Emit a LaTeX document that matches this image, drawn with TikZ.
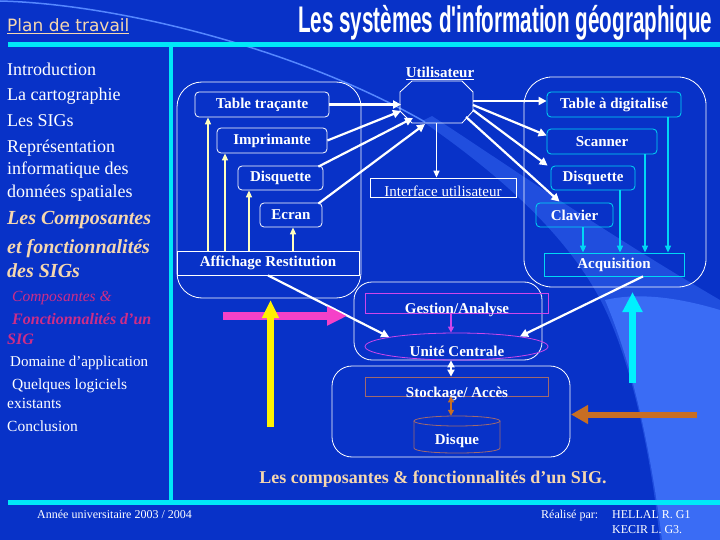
\documentclass[tikz,border=0pt]{standalone}
\usepackage{fontspec}
\setmainfont{Liberation Serif}
\newfontfamily\hdrfont{DejaVu Sans}
\newfontfamily\ttlfont{Liberation Sans}
\usetikzlibrary{arrows.meta,calc,shapes.geometric}
\definecolor{bgblue}{RGB}{8,50,200}
\definecolor{bandblue}{RGB}{32,78,222}
\definecolor{lightband}{RGB}{58,108,245}
\definecolor{lineblue}{RGB}{85,135,255}
\definecolor{cyanline}{RGB}{0,232,248}
\definecolor{peach}{RGB}{245,215,175}
\definecolor{pinkmenu}{RGB}{205,45,135}
\definecolor{paleyellow}{RGB}{255,255,190}
\definecolor{boxcyan}{RGB}{0,215,245}
\definecolor{violetb}{RGB}{205,70,235}
\definecolor{mauve}{RGB}{160,105,110}
\definecolor{bigmagenta}{RGB}{245,65,200}
\definecolor{bigcyan}{RGB}{0,240,255}
\definecolor{bigbrown}{RGB}{200,110,35}
\tikzset{
  menu/.style={anchor=base west, inner sep=0pt, text=white},
  lbl/.style={text=white, font=\bfseries\fontsize{15}{17}\selectfont},
  lbox/.style={draw=white, line width=0.8pt, rounded corners=4pt, inner sep=0pt, lbl},
  cbox/.style={draw=boxcyan, line width=0.8pt, rounded corners=4pt, inner sep=0pt, lbl},
  grp/.style={draw=white, line width=0.8pt, inner sep=0pt},
  plain/.style={inner sep=0pt, anchor=base, lbl},
  warr/.style={draw=white, line width=2.2pt, -{Triangle[length=8pt,width=8pt]}},
  yarr/.style={draw=paleyellow, line width=1.5pt, -{Triangle[length=7pt,width=6pt]}},
  carr/.style={draw=boxcyan, line width=1.5pt, -{Triangle[length=7pt,width=6pt]}},
}
\begin{document}
\begin{tikzpicture}[x=1pt,y=-1pt]
\useasboundingbox (0,0) rectangle (720,540);
% background
\fill[bgblue] (0,0) rectangle (720,540);
\fill[bandblue] (422,121) .. controls (500,175) and (560,230) .. (595,290)
  .. controls (630,350) and (650,450) .. (660,540) -- (720,540) -- (720,300)
  .. controls (600,230) and (500,160) .. (432,116) -- cycle;
\fill[lightband] (605,300) .. controls (635,370) and (652,460) .. (662,540)
  -- (720,540) -- (720,310) .. controls (680,298) and (640,292) .. (605,300) -- cycle;
\draw[lineblue, line width=1.5pt] (0,1) .. controls (120,4) and (300,50) .. (425,122);
% frame lines
\draw[cyanline, line width=5pt] (8,44.5) -- (720,44.5);
\draw[cyanline, line width=5pt] (8,502) -- (720,502);
\draw[cyanline, line width=4pt] (170.5,44.5) -- (170.5,502);
% header
\node[anchor=base west, inner sep=0pt, text=peach, font=\hdrfont\fontsize{17}{20}\selectfont] (plan) at (7,31.5) {\underline{Plan de travail}};
\node[anchor=north west, inner sep=0pt, text=white] (title) at (298,5) {\resizebox*{414pt}{35pt}{\ttlfont\bfseries Les systèmes d'information géographique}};
% left menu
\node[menu, font=\fontsize{18}{20}\selectfont] (m1) at (7,76) {Introduction};
\node[menu, font=\fontsize{18}{20}\selectfont] (m2) at (7,101) {La cartographie};
\node[menu, font=\fontsize{18}{20}\selectfont] (m3) at (7,127) {Les SIGs};
\node[menu, font=\fontsize{18}{20}\selectfont] (m4) at (7,153) {Représentation};
\node[menu, font=\fontsize{18}{20}\selectfont] (m5) at (7,175) {informatique des};
\node[menu, font=\fontsize{18}{20}\selectfont] (m6) at (7,197.5) {données spatiales};
\node[menu, text=peach, font=\bfseries\itshape\fontsize{20}{22}\selectfont] (m7) at (7,225) {Les Composantes};
\node[menu, text=peach, font=\bfseries\itshape\fontsize{20}{22}\selectfont] (m8) at (7,254) {et fonctionnalités};
\node[menu, text=peach, font=\bfseries\itshape\fontsize{20}{22}\selectfont] (m9) at (7,277) {des SIGs};
\node[menu, text=pinkmenu, font=\itshape\fontsize{15.5}{18}\selectfont] (s1) at (12,301) {Composantes \&};
\node[menu, text=pinkmenu, font=\bfseries\itshape\fontsize{16}{18}\selectfont] (s2) at (12,324) {Fonctionnalités d’un};
\node[menu, text=pinkmenu, font=\bfseries\itshape\fontsize{16}{18}\selectfont] (s3) at (7,344) {SIG};
\node[menu, font=\fontsize{15}{18}\selectfont] (s4) at (10,366) {Domaine d’application};
\node[menu, font=\fontsize{15.5}{18}\selectfont] (s5) at (12,389) {Quelques logiciels};
\node[menu, font=\fontsize{15.5}{18}\selectfont] (s6) at (7,408) {existants};
\node[menu, font=\fontsize{15.5}{18}\selectfont] (s7) at (7,431) {Conclusion};
% group boxes
\node[grp, rounded corners=25pt, minimum width=184, minimum height=216] (gres) at (269,190) {};
\node[grp, rounded corners=28pt, minimum width=182, minimum height=210] (gacq) at (615,182) {};
\node[grp, rounded corners=18pt, minimum width=188, minimum height=78] (gtrt) at (448,321) {};
\node[grp, rounded corners=20pt, minimum width=238, minimum height=91] (gsto) at (451,411.5) {};
% restitution boxes
\node[lbox, minimum width=134, minimum height=25] (tt) at (262,104.5) {Table traçante};
\node[lbox, minimum width=110, minimum height=25] (im) at (272,140.5) {Imprimante};
\node[lbox, minimum width=85, minimum height=24] (dq) at (280.5,178) {Disquette};
\node[lbox, minimum width=62, minimum height=24] (ec) at (291,215) {Ecran};
\node[lbox, rounded corners=0pt, minimum width=182, minimum height=24] (af) at (268,263) {Affichage Restitution};
\draw[yarr] (208,0 |- af.north) -- (208,0 |- tt.south);
\draw[yarr] (225,0 |- af.north) -- (225,0 |- im.south);
\draw[yarr] (249,0 |- af.north) -- (249,0 |- dq.south);
\draw[yarr] (293,0 |- af.north) -- (293,0 |- ec.south);
% acquisition boxes
\node[cbox, minimum width=134, minimum height=25] (td) at (614,104.5) {Table à digitalisé};
\node[cbox, minimum width=110, minimum height=25] (sc) at (602,141.5) {Scanner};
\node[cbox, minimum width=84, minimum height=24] (dq2) at (593,178) {Disquette};
\node[cbox, minimum width=77, minimum height=24] (cl) at (574.5,215) {Clavier};
\node[cbox, rounded corners=0pt, minimum width=140, minimum height=23] (aq) at (614,264.5) {Acquisition};
\draw[carr] (583,0 |- cl.south) -- (583,0 |- aq.north);
\draw[carr] (620,0 |- dq2.south) -- (620,0 |- aq.north);
\draw[carr] (645,0 |- sc.south) -- (645,0 |- aq.north);
\draw[carr] (668,0 |- td.south) -- (668,0 |- aq.north);
% utilisateur
\node[inner sep=0pt, minimum width=73, minimum height=42] (ut) at (436.5,102) {};
\draw[white, line width=0.8pt] (412,81) -- (462,81) -- (473,92) -- (473,111) -- (462,123) -- (412,123) -- (400,111) -- (400,92) -- cycle;
\node[plain, font=\bfseries\fontsize{15}{17}\selectfont] (utl) at (440,78) {\underline{Utilisateur}};
\coordinate (uL1) at (401,104.5);
\coordinate (uL2) at (401,111);
\coordinate (uL3) at (413,118);
\coordinate (uL4) at (425,124);
\coordinate (uR1) at (473,101);
\coordinate (uR2) at (473,105);
\coordinate (uR3) at (473,110);
\coordinate (uR4) at (466,117);
\draw[warr] (tt.east) -- (uL1);
\draw[warr] (im.east) -- (uL2);
\draw[warr] ($(dq.north east)+(-5,1)$) -- (uL3);
\draw[warr] ($(ec.north east)+(-4,1)$) -- (uL4);
\draw[warr] (uR1) -- (uR1 -| td.west);
\draw[warr] (uR2) -- ($(sc.west)+(0,-6)$);
\draw[warr] (uR3) -- ($(dq2.north west)+(-3,0)$);
\draw[warr] (uR4) -- ($(cl.north)+(-15,-1)$);
% interface
\node[draw=white, line width=0.8pt, inner sep=0pt, minimum width=146, minimum height=19] (ifc) at (443,187.5) {};
\node[inner sep=0pt, anchor=base, text=white, font=\fontsize{15}{17}\selectfont] (ift) at (443,196.5) {Interface utilisateur};
\draw[white, line width=1.5pt, -{Triangle[length=7pt,width=6pt]}] (ut.south) -- (ut.south |- ifc.north);
% traitement
\node[draw=violetb, line width=0.8pt, inner sep=0pt, minimum width=183, minimum height=20] (ga) at (456.5,303) {};
\node[plain] (gat) at (457,313) {Gestion/Analyse};
\node[draw=violetb, line width=0.8pt, ellipse, inner sep=0pt, minimum width=183, minimum height=27] (uc) at (456.5,346.5) {};
\node[plain] (uct) at (457,356) {Unité Centrale};
\draw[violetb, line width=1.5pt, -{Triangle[length=6pt,width=6pt]}] (451,0 |- ga.south) -- (451,0 |- uc.north);
\draw[warr] (af.south) -- (uc.172);
\draw[warr] (643,0 |- aq.south) -- (uc.9);
% stockage
\node[draw=mauve, line width=0.8pt, inner sep=0pt, minimum width=183, minimum height=19] (sa) at (456.5,386.5) {};
\draw[white, line width=2pt, {Triangle[length=7pt,width=7pt]}-{Triangle[length=7pt,width=7pt]}] (451,0 |- uc.south) -- (451,0 |- sa.north);
\node[inner sep=0pt, minimum width=86, minimum height=37] (dk) at (457,434.5) {};
\draw[mauve, line width=0.8pt] (457,421) ellipse [x radius=43pt, y radius=5pt];
\draw[mauve, line width=0.8pt] (414,421) -- (414,448) .. controls (414,454.7) and (500,454.7) .. (500,448) -- (500,421);
\node[plain] (dkt) at (457,444) {Disque};
\node[plain] (sat) at (457,397) {Stockage/ Accès};
\draw[bigbrown, line width=1.5pt, {Triangle[length=6pt,width=6pt]}-{Triangle[length=6pt,width=6pt]}] (451,0 |- sa.south) -- (451,0 |- dk.north);
% big arrows
\coordinate (mgS) at (223,316);
\coordinate (mgE) at (347,316);
\coordinate (ylS) at (270.5,427);
\coordinate (ylE) at (270.5,300);
\coordinate (cyS) at (632.5,383);
\coordinate (cyE) at (632.5,292);
\coordinate (brS) at (697,414.5);
\coordinate (brE) at (571,414.5);
\draw[bigmagenta, line width=8pt, -{Triangle[length=20pt,width=18pt]}] (mgS) -- (mgE);
\draw[yellow, line width=7pt, -{Triangle[length=18pt,width=16pt]}] (ylS) -- (ylE);
\draw[bigcyan, line width=7pt, -{Triangle[length=20pt,width=19pt]}] (cyS) -- (cyE);
\draw[bigbrown, line width=6pt, -{Triangle[length=17pt,width=18pt]}] (brS) -- (brE);
% caption
\node[inner sep=0pt, anchor=base, text=peach, font=\bfseries\fontsize{18}{20}\selectfont] (cap) at (433,483) {Les composantes \& fonctionnalités d’un SIG.};
% footer
\node[menu, font=\fontsize{12}{14}\selectfont] (f1) at (37,518) {Année universitaire 2003 / 2004};
\node[menu, font=\fontsize{12}{14}\selectfont] (f2) at (541,518) {Réalisé par:};
\node[menu, font=\fontsize{12}{14}\selectfont] (f3) at (612,518) {HELLAL R. G1};
\node[menu, font=\fontsize{12}{14}\selectfont] (f4) at (612,533) {KECIR L. G3.};
\end{tikzpicture}
\end{document}
